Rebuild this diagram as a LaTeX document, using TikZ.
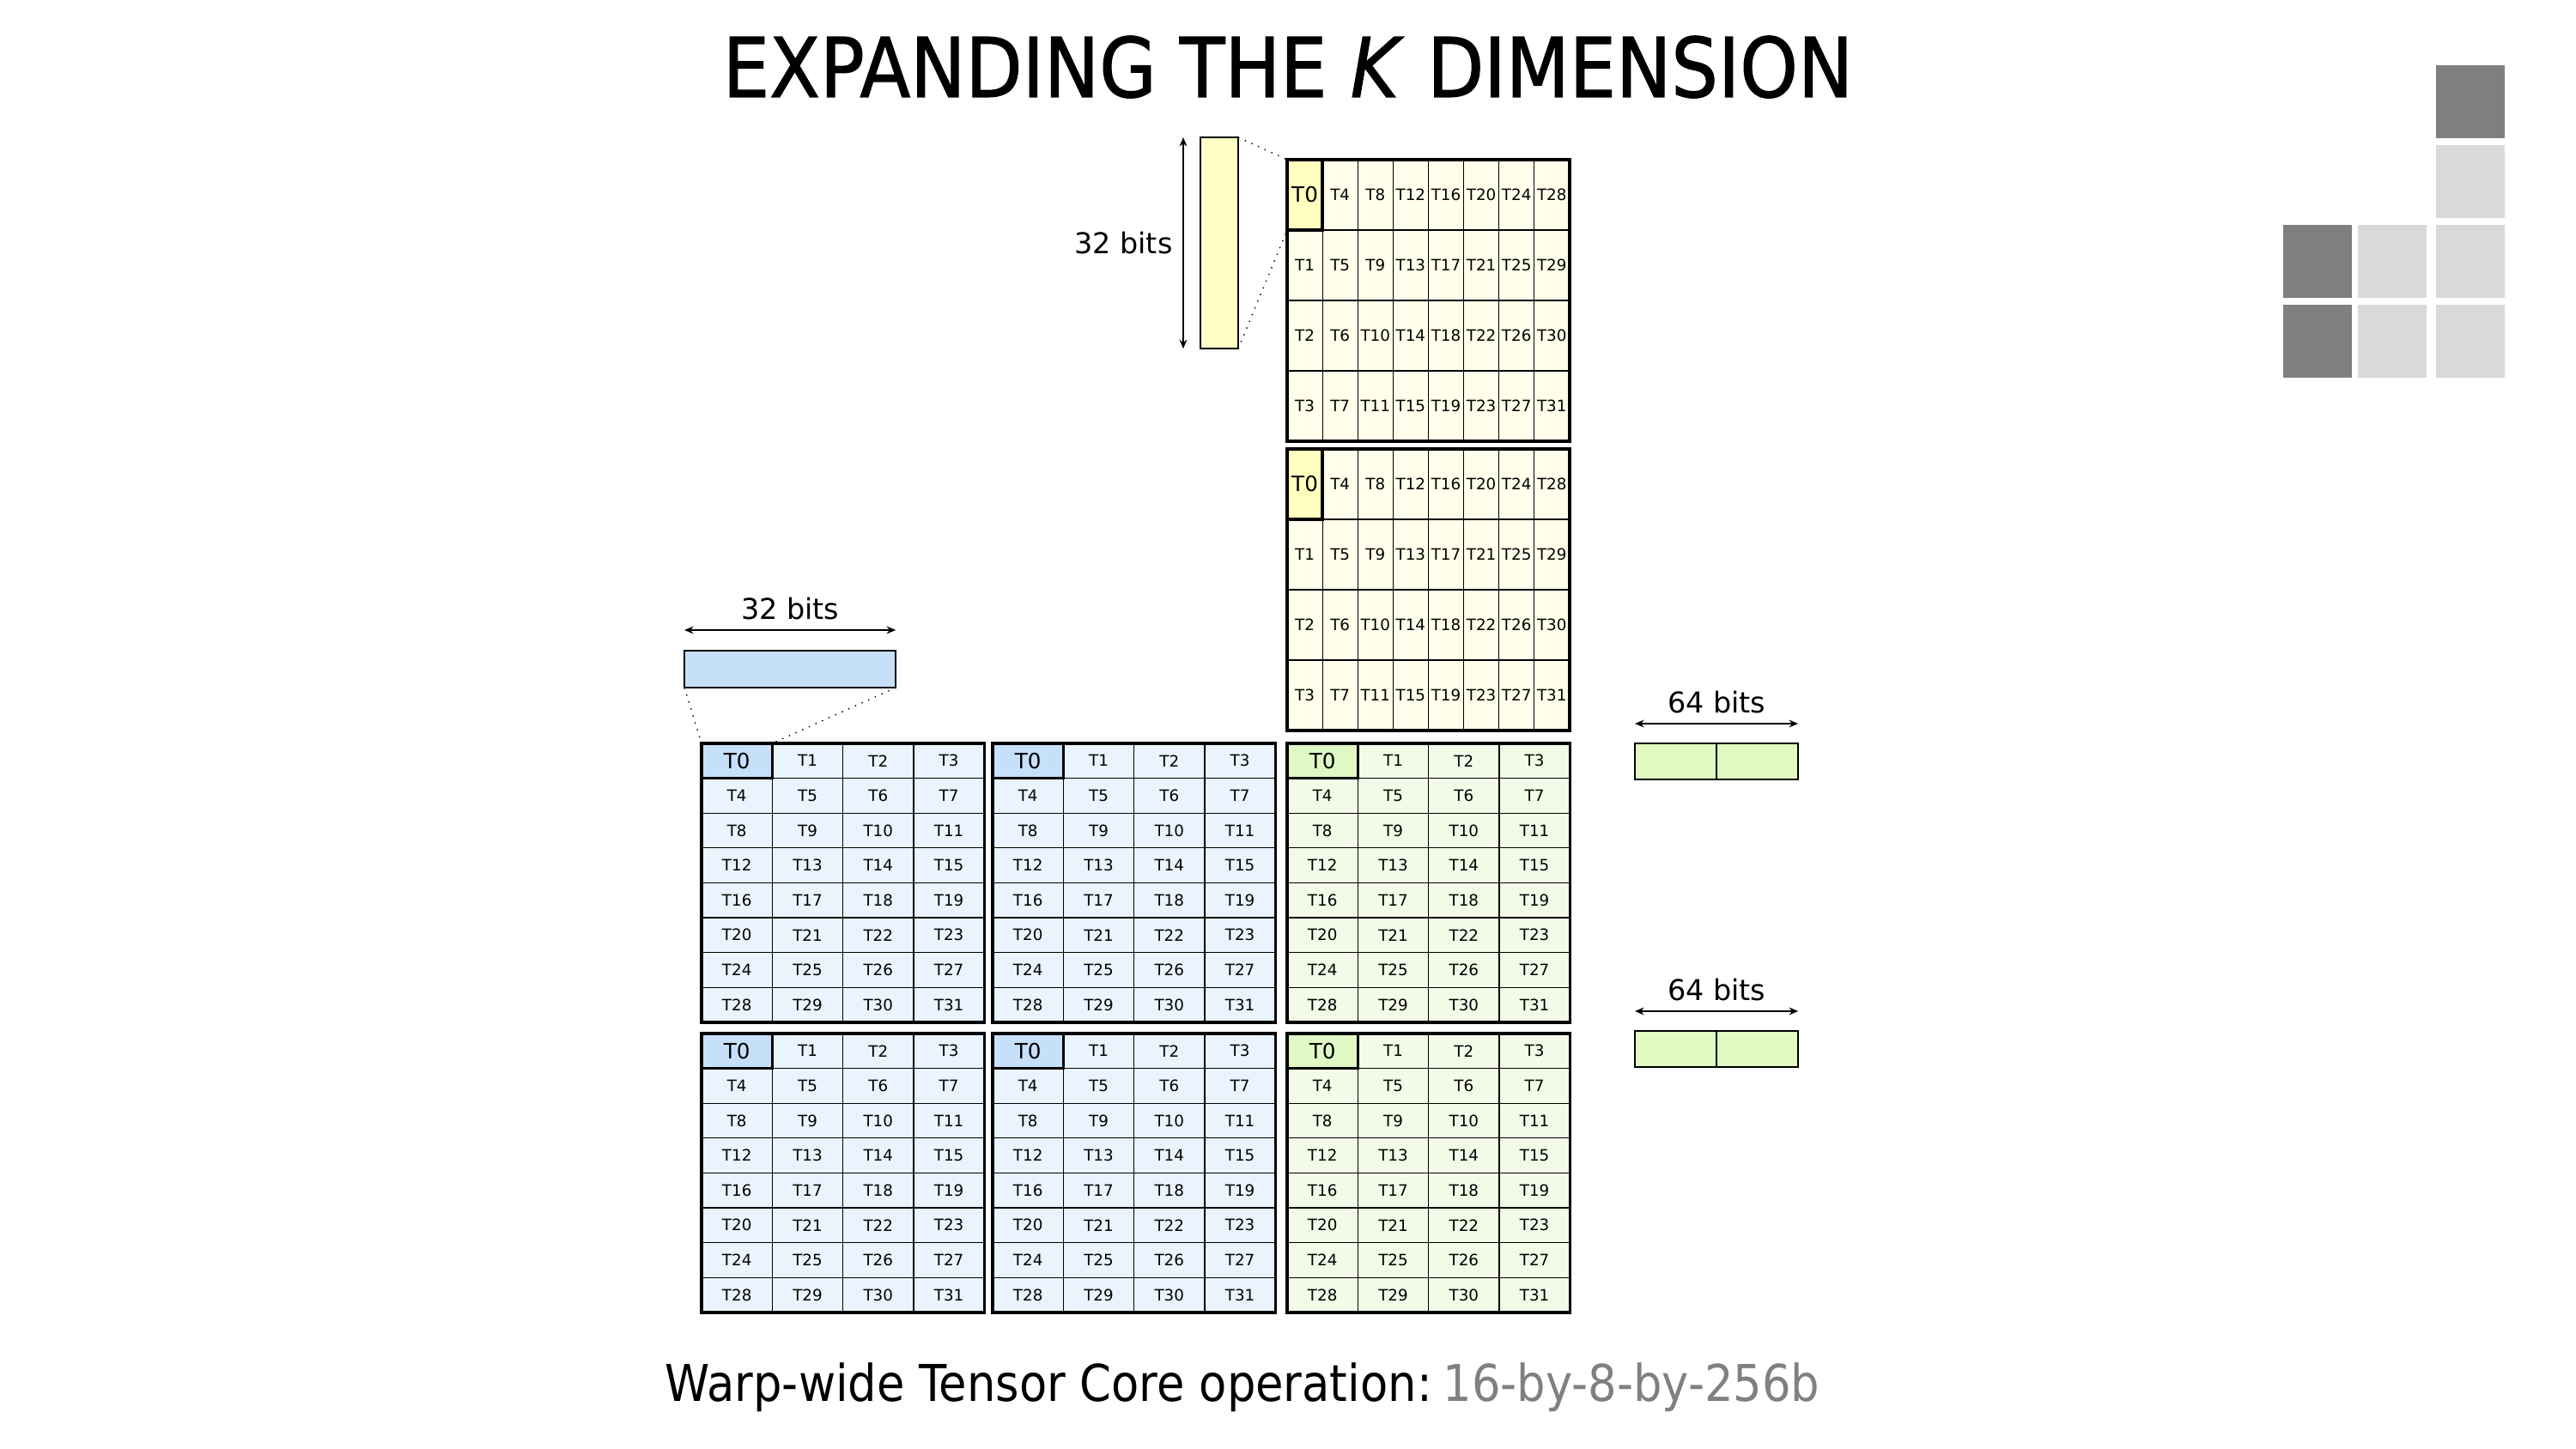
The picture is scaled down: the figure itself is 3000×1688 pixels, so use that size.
\documentclass[tikz,border=0pt]{standalone}
\usepackage{fontspec}
\setmainfont{DejaVu Sans}
\newfontfamily\titlefont[FakeStretch=0.895, FakeBold=1.2]{DejaVu Sans}
\newfontfamily\capfont[FakeStretch=0.893]{DejaVu Sans}
\usetikzlibrary{arrows.meta}

\definecolor{barblue}{HTML}{C6E0FA}
\definecolor{cellblue}{HTML}{EAF4FE}
\definecolor{baryellow}{HTML}{FFFFC6}
\definecolor{cellyellow}{HTML}{FFFFEB}
\definecolor{t0yellow}{HTML}{FFFFC0}
\definecolor{bargreen}{HTML}{E0FAC2}
\definecolor{cellgreen}{HTML}{F3FBE8}
\definecolor{t0green}{HTML}{E0F8C4}
\definecolor{tiledark}{HTML}{7F7F7F}
\definecolor{tilelight}{HTML}{D9D9D9}
\definecolor{dimgray}{HTML}{808080}

\tikzset{
  cell/.style={draw, line width=0.35pt, inner sep=0pt, outer sep=0pt, anchor=north west,
    font=\fontsize{5.2}{6}\selectfont},
  wide/.style={cell, minimum width=0.823cm, minimum height=0.406cm},
  tall/.style={cell, minimum width=0.411cm, minimum height=0.82cm},
  first/.style={line width=1pt, font=\fontsize{7}{8}\selectfont},
  frame/.style={draw, line width=1pt},
  bar/.style={draw, line width=0.6pt, inner sep=0pt, outer sep=0pt, anchor=north west},
  dots/.style={dotted, line width=0.4pt},
  span/.style={{Stealth[length=3pt,width=2.5pt]}-{Stealth[length=3pt,width=2.5pt]}, line width=0.45pt},
  bits/.style={font=\fontsize{9.5}{11}\selectfont},
  tile/.style={inner sep=0pt, outer sep=0pt, anchor=north west, minimum width=0.8cm, minimum height=0.85cm}
}

% 8 rows x 4 columns, T0 at the top left
\newcommand{\widegrid}[5]{%
  \foreach \row in {0,...,7}
    \foreach \col in {0,...,3}{
      \pgfmathtruncatemacro{\tid}{4*\row+\col}
      \node[wide, fill=#4] (#1-\row-\col) at ({#2+82.3*\col},{#3+40.6*\row}) {T\tid};
    }
  \node[wide, first, fill=#5] (#1-0-0) at (#2,#3) {T0};
  \draw[frame] (#1-0-0.north west) rectangle (#1-7-3.south east);
}
% 4 rows x 8 columns, numbered down the columns
\newcommand{\tallgrid}[5]{%
  \foreach \row in {0,...,3}
    \foreach \col in {0,...,7}{
      \pgfmathtruncatemacro{\tid}{4*\col+\row}
      \node[tall, fill=#4] (#1-\row-\col) at ({#2+41.1*\col},{#3+82*\row}) {T\tid};
    }
  \node[tall, first, fill=#5] (#1-0-0) at (#2,#3) {T0};
  \draw[frame] (#1-0-0.north west) rectangle (#1-3-7.south east);
}

\begin{document}
\begin{tikzpicture}[x=0.01cm, y=-0.01cm]
  \fill[white] (0,0) rectangle (3000,1688);

  % Title and caption
  \node[anchor=base, font=\titlefont\fontsize{27.3}{30}\selectfont] (title) at (1500,113)
    {EXPANDING THE \textit{K} DIMENSION};
  \node[anchor=base, font=\capfont\fontsize{16.8}{20}\selectfont] (caption) at (1447,1632)
    {Warp-wide Tensor Core operation:\hspace{0.22em}\textcolor{dimgray}{16-by-8-by-256b}};

  % Define grids
  \tallgrid{y1}{1499}{186}{cellyellow}{t0yellow}
  \tallgrid{y2}{1499}{523}{cellyellow}{t0yellow}
  \widegrid{a1}{817}{866}{cellblue}{barblue}
  \widegrid{b1}{1156}{866}{cellblue}{barblue}
  \widegrid{c1}{1499}{866}{cellgreen}{t0green}
  \widegrid{a2}{817}{1204}{cellblue}{barblue}
  \widegrid{b2}{1156}{1204}{cellblue}{barblue}
  \widegrid{c2}{1499}{1204}{cellgreen}{t0green}

  % Registers
  \node[bar, fill=baryellow, minimum width=0.44cm, minimum height=2.46cm] (ybar) at (1398,160) {};
  \node[bar, fill=barblue, minimum width=2.46cm, minimum height=0.43cm] (bbar) at (797,758) {};
  \node[bar, fill=bargreen, minimum width=1.9cm, minimum height=0.42cm] (gbar1) at (1904,866) {};
  \node[bar, fill=bargreen, minimum width=1.9cm, minimum height=0.42cm] (gbar2) at (1904,1201) {};
  \draw[line width=0.45pt] (gbar1.north) -- (gbar1.south);
  \draw[line width=0.45pt] (gbar2.north) -- (gbar2.south);

  % Widths
  \draw[span] ([xshift=-0.2cm]ybar.north west) -- ([xshift=-0.2cm]ybar.south west)
    node[midway, left, bits] {32 bits};
  \draw[span] ([yshift=0.24cm]bbar.north west) -- ([yshift=0.24cm]bbar.north east)
    node[midway, above, bits] {32 bits};
  \draw[span] ([yshift=0.23cm]gbar1.north west) -- ([yshift=0.23cm]gbar1.north east)
    node[midway, above, bits] {64 bits};
  \draw[span] ([yshift=0.23cm]gbar2.north west) -- ([yshift=0.23cm]gbar2.north east)
    node[midway, above, bits] {64 bits};

  % Zoom lines
  \draw[dots] (ybar.north east) -- (y1-0-0.north west);
  \draw[dots] (ybar.south east) -- (y1-0-0.south west);
  \draw[dots] (bbar.south west) -- (a1-0-0.north west);
  \draw[dots] (bbar.south east) -- (a1-0-0.north east);

  % Corner tiles
  \foreach \name/\x/\y/\shade in {t1/2837/76/tiledark, t2/2837/169/tilelight,
      t3/2659/262/tiledark, t4/2746/262/tilelight, t5/2837/262/tilelight,
      t6/2659/355/tiledark, t7/2746/355/tilelight, t8/2837/355/tilelight}
    \node[tile, fill=\shade] (\name) at (\x,\y) {};
\end{tikzpicture}
\end{document}
